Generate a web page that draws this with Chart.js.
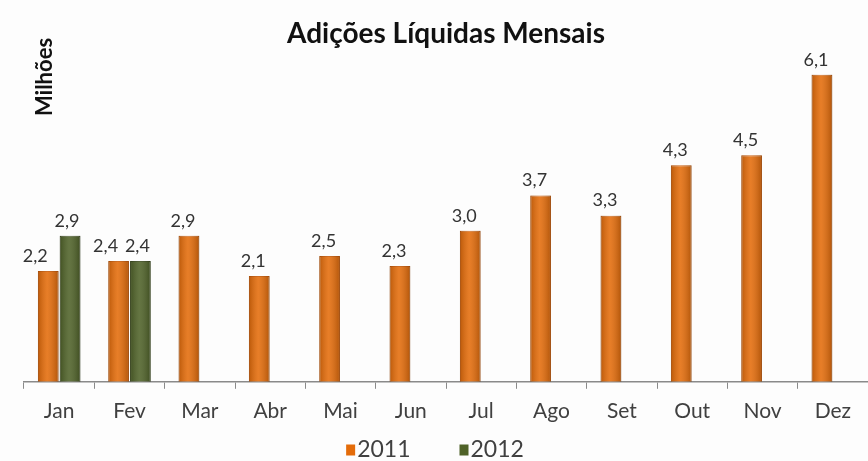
<!DOCTYPE html>
<html>
<head>
<meta charset="utf-8">
<script src="https://cdn.jsdelivr.net/npm/chart.js@4"></script>
<style>
  html, body { margin: 0; padding: 0; background: #fdfdfd; overflow: hidden; }
  #wrap { width: 868px; height: 461px; }
</style>
</head>
<body>
<div id="wrap"><canvas id="chart" width="868" height="461"></canvas></div>
<script>
const months = ["Jan", "Fev", "Mar", "Abr", "Mai", "Jun", "Jul", "Ago", "Set", "Out", "Nov", "Dez"];
const values2011 = [2.2, 2.4, 2.9, 2.1, 2.5, 2.3, 3.0, 3.7, 3.3, 4.3, 4.5, 6.1];
const values2012 = [2.9, 2.4, null, null, null, null, null, null, null, null, null, null];
const seriesNames = ["2011", "2012"];
const seriesColors = ["#E46C0A", "#4F6228"];

const FONT = "Lato, 'Open Sans', sans-serif";

// value labels above each bar + light cylinder shading
const barExtras = {
  id: "barExtras",
  afterDatasetsDraw(chart) {
    const ctx = chart.ctx;
    chart.data.datasets.forEach((ds, i) => {
      const meta = chart.getDatasetMeta(i);
      meta.data.forEach((bar, j) => {
        const v = ds.data[j];
        if (v === null || v === undefined) return;
        const left = bar.x - bar.width / 2;
        const g = ctx.createLinearGradient(left, 0, left + bar.width, 0);
        g.addColorStop(0, "rgba(0,0,0,0.18)");
        g.addColorStop(0.45, "rgba(255,255,255,0.12)");
        g.addColorStop(1, "rgba(0,0,0,0.22)");
        ctx.save();
        ctx.fillStyle = g;
        ctx.fillRect(left, bar.y, bar.width, bar.base - bar.y);

        // labels sit a little left of the bar; pull apart when two bars share a month
        const paired = values2012[j] !== null;
        let dx = -6;
        if (paired) dx = i === 0 ? -13 : -3;
        ctx.fillStyle = "#333333";
        ctx.font = "18px " + FONT;
        ctx.textAlign = "center";
        ctx.textBaseline = "middle";
        ctx.fillText(v.toFixed(1).replace(".", ","), bar.x + dx, bar.y - 15);
        ctx.restore();
      });
    });
  }
};

// "Milhões" unit label at top left, and the legend at the bottom
const extraText = {
  id: "extraText",
  afterDraw(chart) {
    const ctx = chart.ctx;
    ctx.save();
    ctx.translate(45, 77);
    ctx.rotate(-Math.PI / 2);
    ctx.font = "bold 22px " + FONT;
    ctx.fillStyle = "#111111";
    ctx.textAlign = "center";
    ctx.textBaseline = "middle";
    ctx.fillText("Milhões", 0, 0);
    ctx.restore();

    // legend
    ctx.save();
    ctx.font = "23px " + FONT;
    ctx.textBaseline = "middle";
    const boxW = 9, boxH = 11, gap = 2, itemGap = 49, y = 450;
    const widths = seriesNames.map(n => ctx.measureText(n).width);
    let total = 0;
    widths.forEach((w, i) => { total += boxW + gap + w + (i ? itemGap : 0); });
    let x = chart.width / 2 + 1 - total / 2;
    seriesNames.forEach((n, i) => {
      ctx.fillStyle = seriesColors[i];
      ctx.fillRect(x, y - boxH / 2, boxW, boxH);
      ctx.fillStyle = "#404040";
      ctx.fillText(n, x + boxW + gap, y);
      x += boxW + gap + widths[i] + itemGap;
    });
    ctx.restore();
  }
};

new Chart(document.getElementById("chart"), {
  type: "bar",
  data: {
    labels: months,
    datasets: [
      {
        label: seriesNames[0],
        data: values2011,
        backgroundColor: seriesColors[0],
        borderColor: "#C85A06",
        borderWidth: 1
      },
      {
        label: seriesNames[1],
        data: values2012,
        backgroundColor: seriesColors[1],
        borderColor: "#3C4B1D",
        borderWidth: 1
      }
    ]
  },
  options: {
    responsive: false,
    animation: false,
    categoryPercentage: 0.62,
    barPercentage: 0.95,
    layout: { padding: { left: 24, right: 0, top: 0, bottom: 27 } },
    plugins: {
      title: {
        display: true,
        text: "Adições Líquidas Mensais",
        color: "#111111",
        font: { family: FONT, size: 28, weight: "bold" },
        padding: { top: 17, bottom: 4 }
      },
      legend: { display: false },
      tooltip: { enabled: false }
    },
    scales: {
      x: {
        offset: true,
        grid: {
          display: true,
          offset: true,
          drawOnChartArea: false,
          drawTicks: true,
          tickLength: 7,
          color: "#8a8a8a"
        },
        border: { display: true, color: "#8a8a8a", width: 1.5 },
        ticks: {
          color: "#404040",
          font: { family: FONT, size: 21 },
          padding: 10
        }
      },
      y: {
        display: false,
        min: 0,
        max: 6.5
      }
    }
  },
  plugins: [barExtras, extraText]
});
</script>
</body>
</html>
